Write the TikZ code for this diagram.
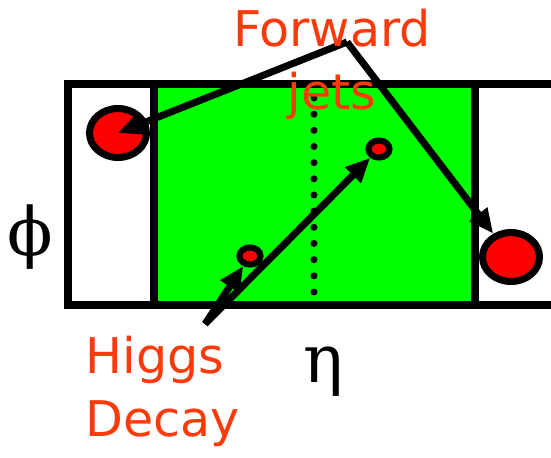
\documentclass[tikz,border=0pt]{standalone}
\usepackage{fontspec}
\setmainfont{DejaVu Sans}
\newfontfamily\greekfont{DejaVu Serif}
\usetikzlibrary{arrows.meta,shapes.geometric}
\definecolor{label}{HTML}{FF3A0A}
\definecolor{calo}{HTML}{00FF00}

\begin{document}
\begin{tikzpicture}[x=0.02cm,y=-0.02cm,>={Triangle[length=14pt,width=12pt]},
    frame/.style={line width=4pt},
    jet/.style={ellipse,draw,fill=red,line width=4pt,inner sep=0pt,minimum width=1.14cm,minimum height=0.98cm},
    decay/.style={ellipse,draw,fill=red,line width=3.5pt,inner sep=0pt,minimum width=0.42cm,minimum height=0.34cm},
    track/.style={->,line width=4pt},
    axis/.style={inner sep=0pt,font=\greekfont\fontsize{38}{38}\selectfont},
    tag/.style={text=label,inner sep=0pt,font=\fontsize{28}{36}\selectfont}]
  \useasboundingbox (0,0) rectangle (551,457);
  % detector in eta-phi
  \fill[calo] (154,84) rectangle (475,305);
  \draw[frame] (551,84) -| (68,305) -- (551,305);
  \draw[frame] (154,84) -- (154,305);
  \draw[frame] (475,84) -- (475,305);
  \draw[line width=0.14cm,line cap=round,dash pattern=on 0pt off 0.3233cm] (314,98) -- (314,293);
  % jets and decay products
  \node[jet] (ljet) at (118,133) {};
  \node[jet] (rjet) at (511,257) {};
  \node[decay] (hup) at (379,149) {};
  \node[decay] (hlow) at (250,256) {};
  \coordinate (fwd) at (347,42);
  \coordinate (hd) at (205,324);
  \draw[track] (fwd) -- (ljet.center);
  \draw[track] (fwd) -- (rjet);
  \draw[track] (hd) -- (hup);
  \draw[track] (hd) -- (hlow);
  % labels
  \node[tag,align=center,anchor=north] (fj) at (332,9) {Forward\\jets};
  \node[tag,align=left,anchor=north west] (hg) at (85,336) {Higgs\\Decay};
  \node[axis] (phi) at (30,237) {ϕ};
  \node[axis] (eta) at (323,372) {η};
\end{tikzpicture}
\end{document}
